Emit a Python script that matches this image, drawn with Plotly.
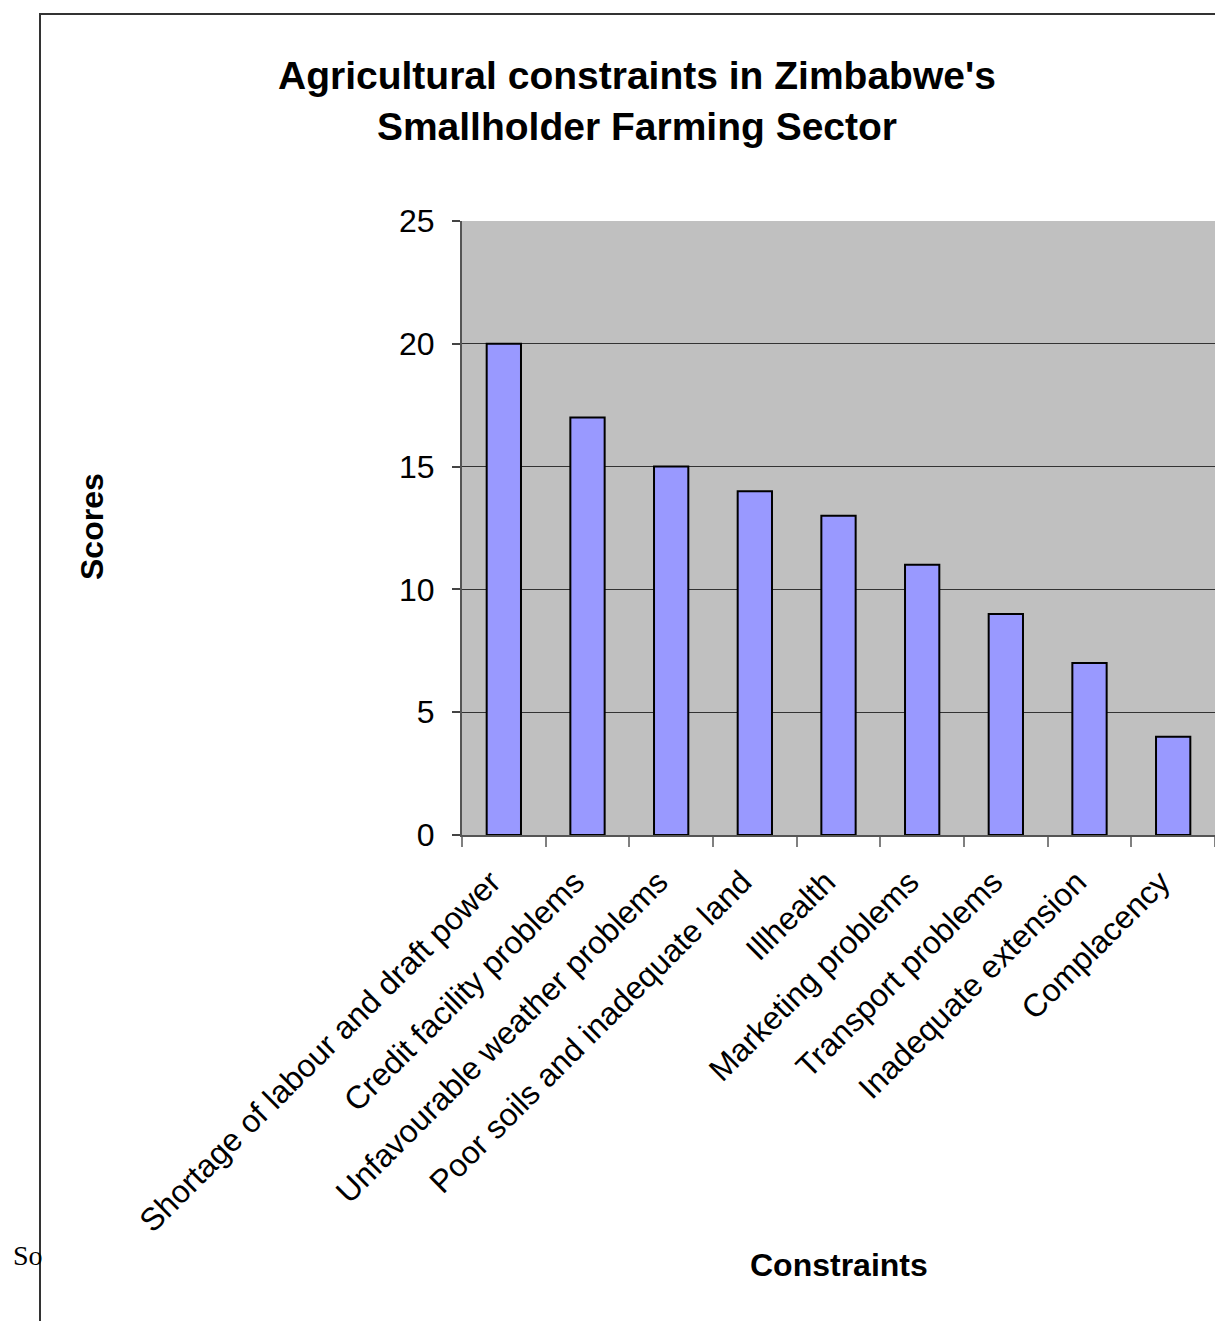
import plotly.graph_objects as go

categories = [
    "Shortage of labour and draft power",
    "Credit facility problems",
    "Unfavourable weather problems",
    "Poor soils and inadequate land",
    "Illhealth",
    "Marketing problems",
    "Transport problems",
    "Inadequate extension",
    "Complacency",
]
scores = [20, 17, 15, 14, 13, 11, 9, 7, 4]
y_ticks = [0, 5, 10, 15, 20, 25]

W, H = 1215, 1321
PL, PT, PB = 462, 221, 835  # plot area in screen pixels
L, T, R = PL, PT, 0
B = H - PB
pw = W - L - R
ph = H - T - B

def px(x):
    return (x - L) / pw

def py(y):
    return (PB - y) / ph

FONT = "Liberation Sans, Arial, sans-serif"
NB = "\u00a0\u00a0"

fig = go.Figure(go.Bar(
    x=categories, y=scores,
    marker=dict(color="#9999FF", line=dict(color="black", width=2)),
))

fig.update_layout(
    width=W, height=H,
    margin=dict(l=L, r=R, t=T, b=B, autoexpand=False),
    paper_bgcolor="white", plot_bgcolor="#C0C0C0",
    bargap=0.59, showlegend=False,
    font=dict(family=FONT, color="black"),
)
fig.update_xaxes(
    type="category", tickson="boundaries", ticks="outside", ticklen=10,
    tickcolor="#808080", tickwidth=2, tickangle=-45, ticklabelstandoff=1,
    tickvals=categories, ticktext=[c + NB for c in categories],
    tickfont=dict(size=32, family=FONT, color="black"),
    showline=True, linecolor="#555555", linewidth=2, showgrid=False,
)
fig.update_yaxes(
    range=[0, 25], tickvals=y_ticks, ticks="outside", ticklen=8,
    tickcolor="#444444", tickwidth=2, ticklabelstandoff=11,
    tickfont=dict(size=32, family=FONT, color="black"),
    showline=True, linecolor="#555555", linewidth=2,
    showgrid=True, gridcolor="#333333", gridwidth=1, zeroline=False,
)

fig.add_shape(type="rect", xref="paper", yref="paper",
              x0=px(40), x1=px(1300), y0=py(1400), y1=py(14),
              line=dict(color="#333333", width=2), fillcolor="rgba(0,0,0,0)", layer="above")

fig.add_annotation(text="Agricultural constraints in Zimbabwe's<br>Smallholder Farming Sector",
                   xref="paper", yref="paper", x=px(637), y=py(101),
                   xanchor="center", yanchor="middle", showarrow=False,
                   font=dict(size=39, family=FONT, color="black", weight="bold"))
fig.add_annotation(text="<b>Scores</b>", xref="paper", yref="paper",
                   x=px(92), y=py(527), textangle=-90,
                   xanchor="center", yanchor="middle", showarrow=False,
                   font=dict(size=32, family=FONT, color="black"))
fig.add_annotation(text="<b>Constraints</b>", xref="paper", yref="paper",
                   x=px(839), y=py(1265),
                   xanchor="center", yanchor="middle", showarrow=False,
                   font=dict(size=32, family=FONT, color="black"))
fig.add_annotation(text="So", xref="paper", yref="paper",
                   x=px(11), y=py(1255),
                   xanchor="left", yanchor="middle", showarrow=False,
                   font=dict(size=28, family="Liberation Serif, Times New Roman, serif", color="black"))

fig.write_html("out.html", config={"displayModeBar": False},
               post_script="document.body.style.margin='0';document.body.style.overflow='hidden';")
